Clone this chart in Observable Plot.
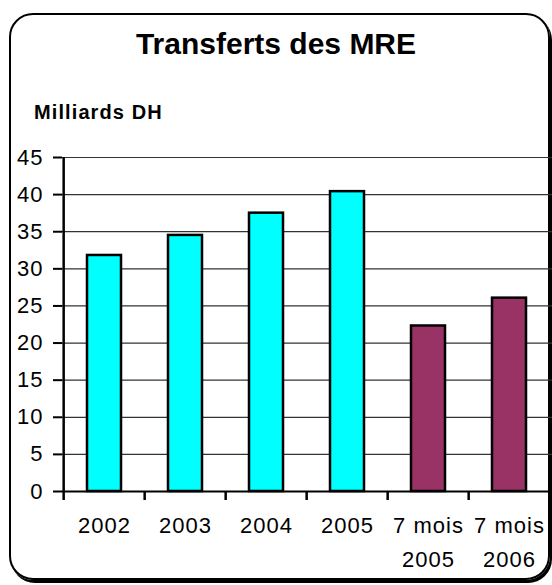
<!DOCTYPE html>
<html><head><meta charset="utf-8">
<script src="https://cdn.jsdelivr.net/npm/d3@7"></script>
<script src="https://cdn.jsdelivr.net/npm/@observablehq/plot@0.6"></script>
<style>
body{margin:0;background:#fff;font-family:"Liberation Sans",Arial,sans-serif;}
#wrap{position:relative;width:552px;height:585px;overflow:hidden;}
#frame{position:absolute;left:9px;top:13px;width:541px;height:567px;border:2px solid #000;border-radius:24px;box-shadow:2px 3px 0 #000;box-sizing:border-box;}
#title{position:absolute;left:0;width:552px;top:27px;text-align:center;font-weight:bold;font-size:30px;}
#sub{position:absolute;left:34px;top:101px;font-weight:bold;font-size:20px;letter-spacing:1.1px;}
#chart{position:absolute;left:0;top:0;}
#chart text{letter-spacing:1px;}
</style></head>
<body><div id="wrap"><div id="frame"></div><div id="title">Transferts des MRE</div><div id="sub">Milliards DH</div><div id="chart"></div></div>
<script>
const categories = ["2002","2003","2004","2005","7 mois\n2005","7 mois\n2006"];
const values = [31.8, 34.5, 37.5, 40.4, 22.3, 26.05];
const colors = ["#00FFFF","#00FFFF","#00FFFF","#00FFFF","#993366","#993366"];
const yTicks = [0,5,10,15,20,25,30,35,40,45];
const data = categories.map((c,i)=>({cat:c, v:values[i], color:colors[i]}));
const W=552,H=585,mL=62,mR=0,mT=157,mB=94;
const halfStep = (W-mL-mR)/categories.length/2;
const plot = Plot.plot({
  width:W,height:H,marginLeft:mL,marginRight:mR,marginTop:mT,marginBottom:mB,
  style:{fontFamily:"'Liberation Sans',Arial,sans-serif",fontSize:"22px",color:"#000",background:"transparent",overflow:"visible"},
  x:{domain:categories,paddingInner:0.58,paddingOuter:0.29,label:null},
  y:{domain:[0,45],ticks:yTicks,label:null},
  marks:[
    Plot.gridY(yTicks.filter(t=>t>0),{stroke:"#333",strokeOpacity:1,strokeWidth:1.2}),
    Plot.barY(data,{x:"cat",y:"v",fill:"color",stroke:"#000",strokeWidth:2.5}),
    Plot.ruleY([0],{stroke:"#000",strokeWidth:2}),
    Plot.ruleX([categories[0]],{x:d=>d,dx:-halfStep,y1:0,y2:45,stroke:"#000",strokeWidth:2.5}),
    Plot.axisY({ticks:yTicks,tickSize:9,tickPadding:10,strokeWidth:2,fontSize:22,fill:"#000",label:null}),
    Plot.axisX({tickSize:9,dx:-halfStep,strokeWidth:2.5,fill:"none",label:null}),
    Plot.axisX({tickSize:0,tickPadding:17,fontSize:22,lineHeight:1.55,fill:"#000",label:null})
  ]
});
document.getElementById("chart").appendChild(plot);
</script></body></html>
